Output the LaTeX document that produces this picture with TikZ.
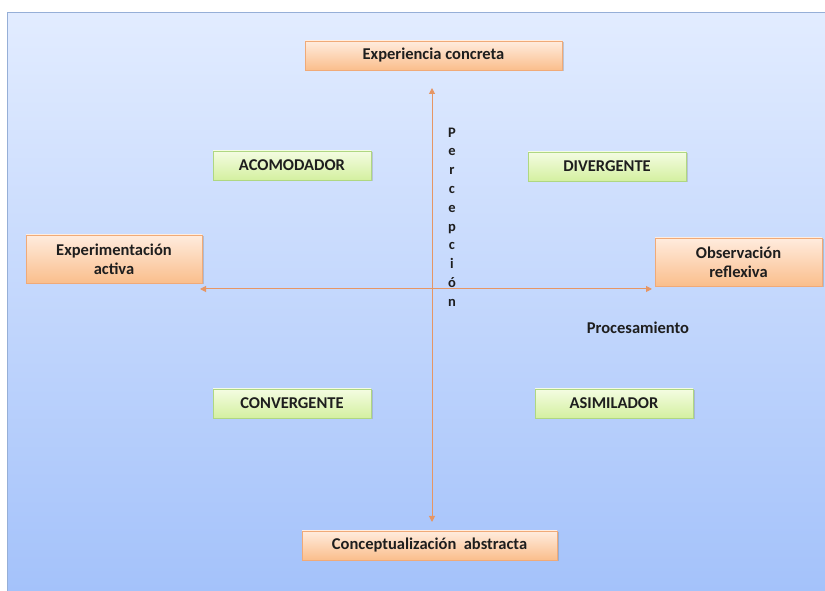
\documentclass[tikz,border=0pt]{standalone}
\usepackage{fontspec}
\setmainfont{Carlito}
\usepackage{tikz}
\usetikzlibrary{arrows.meta, shadows}
\definecolor{bgtop}{RGB}{226, 236, 255}
\definecolor{bgbottom}{RGB}{164, 194, 250}
\definecolor{bgedge}{RGB}{150, 175, 215}
\definecolor{ortop}{RGB}{255, 236, 222}
\definecolor{orbottom}{RGB}{250, 190, 140}
\definecolor{oredge}{RGB}{240, 170, 120}
\definecolor{grtop}{RGB}{244, 252, 226}
\definecolor{grbottom}{RGB}{212, 240, 160}
\definecolor{gredge}{RGB}{175, 215, 130}
\definecolor{axis}{RGB}{230, 150, 100}
\definecolor{ink}{RGB}{30, 30, 30}

\begin{document}
\begin{tikzpicture}[x=1pt, y=1pt]
  \tikzset{
    modebox/.style={draw=oredge, top color=ortop, bottom color=orbottom, drop shadow={opacity=0.35, shadow xshift=1.5pt, shadow yshift=-1.5pt},
      minimum height=29pt, align=center, inner sep=2pt, text=ink, font=\bfseries\fontsize{16.5}{19}\selectfont},
    stylebox/.style={draw=gredge, top color=grtop, bottom color=grbottom, drop shadow={opacity=0.3, shadow xshift=1.5pt, shadow yshift=-1.5pt},
      minimum width=158pt, minimum height=29pt, inner sep=2pt, text=ink, font=\bfseries\fontsize{16.5}{19}\selectfont},
    axisarrow/.style={draw=axis, line width=1pt, {Triangle[length=6pt, width=6pt]}-{Triangle[length=6pt, width=6pt]}}
  }
  \useasboundingbox (0,0) rectangle (825,591);
  \fill[top color=bgtop, bottom color=bgbottom] (7,0) rectangle (825,578);
  \draw[bgedge, line width=1pt] (7,0) -- (7,578) -- (825,578);

  % learning modes
  \node[modebox, minimum width=257pt] (concreta) at (433.5,535.5) {Experiencia concreta};
  \node[modebox, minimum width=176pt, minimum height=48pt] (activa) at (114,332) {Experimentación\\activa};
  \node[modebox, minimum width=167pt, minimum height=48pt] (reflexiva) at (738.5,329) {Observación\\reflexiva};
  \node[modebox, minimum width=255pt] (abstracta) at (429.5,45.5) {Conceptualización~ abstracta};

  % learning styles
  \node[stylebox] (acomodador) at (292,425.5) {ACOMODADOR};
  \node[stylebox] (divergente) at (607,424.5) {DIVERGENTE};
  \node[stylebox] (convergente) at (292,187.5) {CONVERGENTE};
  \node[stylebox] (asimilador) at (614,187.5) {ASIMILADOR};

  % axes
  \coordinate (perc top) at (432,503);
  \coordinate (perc bottom) at (432,69);
  \coordinate (proc left) at (200,302);
  \coordinate (proc right) at (652,302);
  \draw[axisarrow] (perc top) -- (perc bottom);
  \draw[axisarrow] (proc left) -- (proc right);

  \node[align=center, text=ink, font=\bfseries\fontsize{14.5}{18.8}\selectfont] (percepcion) at (452,374)
    {P\\e\\r\\c\\e\\p\\c\\i\\ó\\n};
  \node[text=ink, font=\bfseries\fontsize{16.5}{19}\selectfont] (procesamiento) at (638,263) {Procesamiento};
\end{tikzpicture}
\end{document}
